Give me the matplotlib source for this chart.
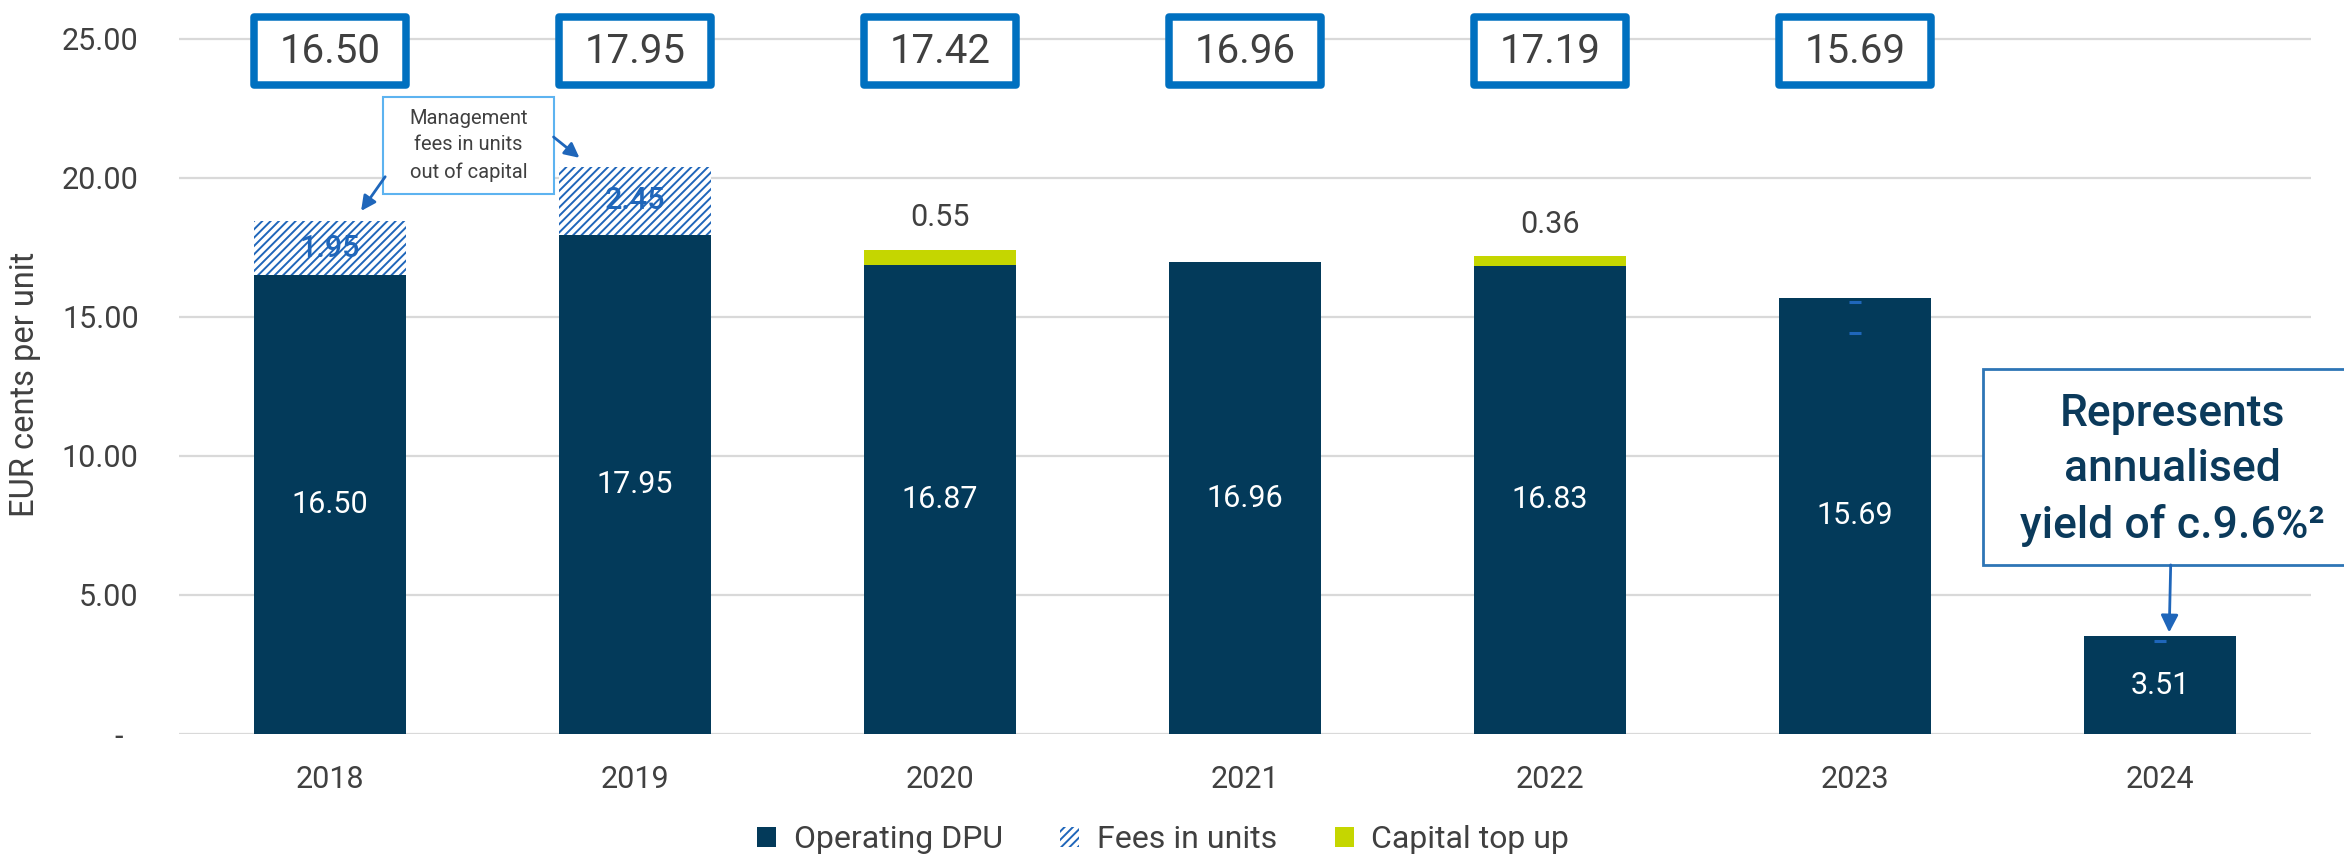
import matplotlib
matplotlib.use('Agg')
import matplotlib.pyplot as plt
from matplotlib.patches import Rectangle, Patch
import numpy as np

plt.rcParams['font.family'] = ['Roboto', 'DejaVu Sans']
plt.rcParams['hatch.linewidth'] = 1.4

# ---------------- data ----------------
years = ['2018', '2019', '2020', '2021', '2022', '2023', '2024']
operating_dpu = [16.50, 17.95, 16.87, 16.96, 16.83, 15.69, 3.51]
fees_in_units = [1.95, 2.45, 0, 0, 0, 0, 0]
capital_top_up = [0, 0, 0.55, 0, 0.36, 0, 0]
total_dpu = [16.50, 17.95, 17.42, 16.96, 17.19, 15.69]
y_ticks = [0, 5, 10, 15, 20, 25]
y_tick_labels = ['-  ', '5.00', '10.00', '15.00', '20.00', '25.00']
legend_labels = ['Operating DPU', 'Fees in units', 'Capital top up']
stray_mark_x = [5, 5, 6]
stray_mark_y = [15.54, 14.43, 3.35]

# ---------------- styles ----------------
NAVY = '#033A5A'
LIME = '#C5D600'
BOX_BLUE = '#0070C0'
HATCH_BLUE = '#1F66BA'
GREY = '#404040'
NOTE_EDGE = '#5DB3F0'

fig = plt.figure(figsize=(23.44, 8.57), dpi=100)
ax = fig.add_axes([179 / 2344, (857 - 734) / 857, 2132 / 2344, 723 / 857])

x = np.arange(len(years))
w = 0.5
bottom_fees = list(operating_dpu)
bottom_cap = [o + f for o, f in zip(operating_dpu, fees_in_units)]

ax.bar(x, operating_dpu, w, color=NAVY, linewidth=0, zorder=2)
ax.bar(x, fees_in_units, w, bottom=bottom_fees, color='white',
       edgecolor=HATCH_BLUE, hatch='////', linewidth=0, zorder=2)
ax.bar(x, capital_top_up, w, bottom=bottom_cap, color=LIME, linewidth=0, zorder=2)

# value labels
for i, v in enumerate(operating_dpu):
    ax.text(i, v / 2, f'{v:.2f}', color='white', ha='center', va='center',
            fontsize=22, zorder=5)
for i, f in enumerate(fees_in_units):
    if f > 0:
        ax.text(i, operating_dpu[i] + f / 2, f'{f:.2f}', color=HATCH_BLUE,
                ha='center', va='center', fontsize=22, fontweight='medium', zorder=5)
for i, c in enumerate(capital_top_up):
    if c > 0:
        ax.text(i, bottom_cap[i] + c + 1.15, f'{c:.2f}', color=GREY,
                ha='center', va='center', fontsize=22, zorder=5)

# stray small dashes present in the source
ax.plot(stray_mark_x, stray_mark_y, ls='none', marker='_', ms=8, mew=2.2,
        color=HATCH_BLUE, zorder=4)

# top total boxes
for i, t in enumerate(total_dpu):
    rect = Rectangle((i - 0.25, 23.35), 0.5, 2.42, facecolor='white',
                     edgecolor=BOX_BLUE, linewidth=5.4, joinstyle='round',
                     zorder=4, clip_on=False)
    ax.add_patch(rect)
    ax.text(i, 24.55, f'{t:.2f}', ha='center', va='center', fontsize=29,
            color=GREY, zorder=5)

# management fees note
ax.add_patch(Rectangle((0.175, 19.42), 0.558, 3.49, facecolor='white',
                       edgecolor=NOTE_EDGE, linewidth=1.5, zorder=4))
ax.text(0.454, 21.17, 'Management\nfees in units\nout of capital', ha='center',
        va='center', fontsize=14.5, linespacing=1.5, color=GREY, zorder=5)
ax.annotate('', xy=(0.102, 18.81), xytext=(0.181, 20.04),
            arrowprops=dict(arrowstyle='-|>', color=HATCH_BLUE, lw=2,
                            mutation_scale=22, shrinkA=0, shrinkB=0), zorder=5)
ax.annotate('', xy=(0.818, 20.72), xytext=(0.733, 21.47),
            arrowprops=dict(arrowstyle='-|>', color=HATCH_BLUE, lw=2,
                            mutation_scale=22, shrinkA=0, shrinkB=0), zorder=5)

# yield note
ax.add_patch(Rectangle((5.421, 6.08), 1.3, 7.05, facecolor='white',
                       edgecolor='#2E75B6', linewidth=2, zorder=4, clip_on=False))
ax.text(6.04, 9.5, 'Represents\nannualised\nyield of c.9.6%²', ha='center',
        va='center', fontsize=32, linespacing=1.4, color='#0B3A5B',
        fontweight='medium', zorder=5, clip_on=False)
ax.annotate('', xy=(6.03, 3.65), xytext=(6.035, 6.08),
            arrowprops=dict(arrowstyle='-|>', color=HATCH_BLUE, lw=2,
                            mutation_scale=26, shrinkA=0, shrinkB=0), zorder=5)

# axes styling
ax.set_xlim(-0.495, 6.495)
ax.set_ylim(0, 26)
ax.set_yticks(y_ticks)
ax.set_yticklabels(y_tick_labels)
ax.set_xticks(x)
ax.set_xticklabels(years)
ax.tick_params(axis='y', length=0, pad=29, labelsize=22, labelcolor=GREY)
ax.tick_params(axis='x', length=0, pad=22, labelsize=22, labelcolor=GREY)
ax.yaxis.grid(True, color='#D9D9D9', linewidth=1.6, zorder=0)
ax.set_axisbelow(True)
for s in ax.spines.values():
    s.set_visible(False)
ax.set_ylabel('EUR cents per unit', fontsize=23.5, color=GREY)
ax.yaxis.set_label_coords(-0.0648, 0.483)

handles = [Patch(facecolor=NAVY, linewidth=0),
           Patch(facecolor='white', edgecolor=HATCH_BLUE, hatch='////', linewidth=0),
           Patch(facecolor=LIME, linewidth=0)]
fig.legend(handles, legend_labels, loc='center',
           bbox_to_anchor=(1163 / 2344, 1 - 840 / 857), ncol=3, frameon=False,
           fontsize=23, labelcolor=GREY, handlelength=0.6, handleheight=0.6,
           handletextpad=0.55, columnspacing=1.8)

fig.savefig('out.png', dpi=100)
